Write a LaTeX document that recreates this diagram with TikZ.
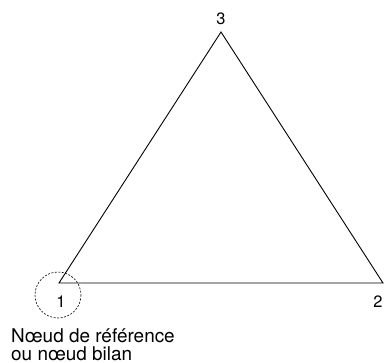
\documentclass[tikz,border=0pt]{standalone}
\usepackage{fontspec}
\setmainfont{TeX Gyre Heros}
\begin{document}
\begin{tikzpicture}[x=1bp,y=-1bp,
  lbl/.style={inner sep=0pt, font=\fontsize{16.5}{19}\selectfont},
  txtlbl/.style={inner sep=0pt, align=left, font=\fontsize{19}{18}\selectfont},
  edge/.style={line width=0.9bp, line join=miter}]
\useasboundingbox (0,0) rectangle (384,363);
\coordinate (v1) at (59,283);
\coordinate (v2) at (383,283);
\coordinate (v3) at (221,32);
\draw[edge] (v1) -- (v2) -- (v3) -- cycle;
\node[lbl] (l3) at (221,19) {3};
\node[lbl] (l1) at (61,302) {1};
\node[lbl] (l2) at (378,302) {2};
\draw[dashed, line width=0.6bp, dash pattern=on 2bp off 1.5bp] (58,295) circle (23);
\node[txtlbl, anchor=south west] (txt) at (11,360.5) {N\oe ud de référence\\ou n\oe ud bilan};
\end{tikzpicture}
\end{document}
